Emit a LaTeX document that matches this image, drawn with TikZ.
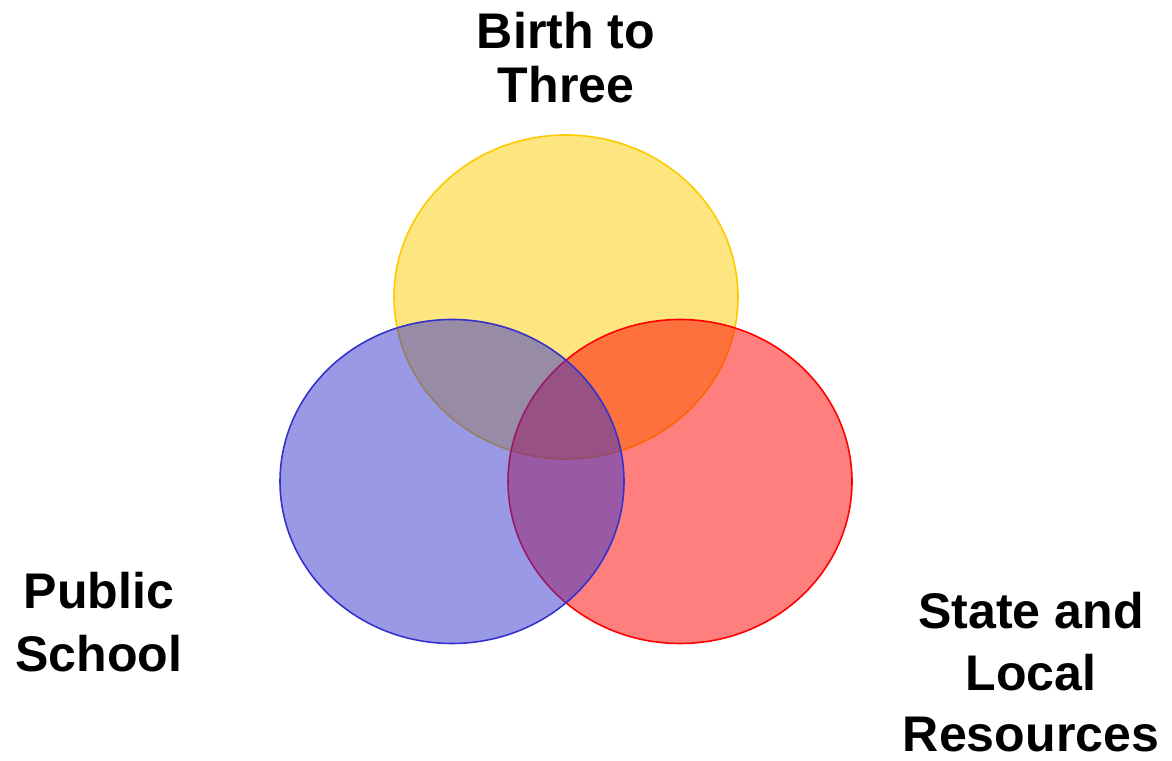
\documentclass[tikz,border=0pt]{standalone}
\usepackage{fontspec}
\setmainfont{Liberation Sans}
\usetikzlibrary{shapes.geometric}
\definecolor{birthgold}{HTML}{FBCB00}
\definecolor{schoolblue}{HTML}{3333CC}
\definecolor{resourcered}{HTML}{FF0000}

\begin{document}
\begin{tikzpicture}[
    set/.style={
        ellipse,
        minimum width=6.88cm,
        minimum height=6.48cm,
        line width=0.9pt,
        fill opacity=0.5
    },
    label/.style={
        align=center,
        anchor=north,
        inner sep=0pt
    }
]
\useasboundingbox (0,0) rectangle (23.44,15.22);

% Circles, drawn in stacking order
\node[set, draw=birthgold, fill=birthgold] (birth) at (11.32,9.28) {};
\node[set, draw=resourcered, fill=resourcered] (state) at (13.60,5.59) {};
\node[set, draw=schoolblue, fill=schoolblue] (school) at (9.04,5.59) {};

% Labels
\node[label, font=\bfseries\fontsize{28.5}{30.7}\selectfont] (birthlbl) at (11.32,14.98) {Birth to\\Three};
\node[label, font=\bfseries\fontsize{28.5}{36}\selectfont] (schoollbl) at (1.98,3.78) {Public\\School};
\node[label, font=\bfseries\fontsize{28.5}{35}\selectfont] (statelbl) at (20.62,3.38) {State and\\Local\\Resources};

\end{tikzpicture}
\end{document}
